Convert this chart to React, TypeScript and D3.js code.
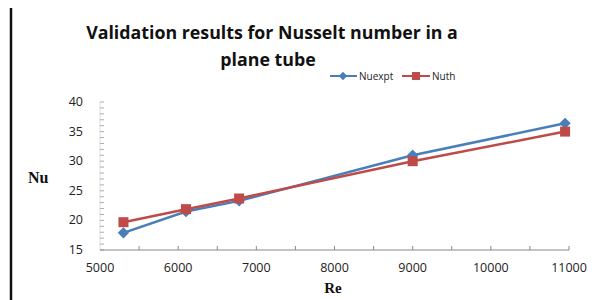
import React from "react";
import * as d3 from "d3";

const reValues = [5300, 6100, 6780, 9000, 10950];
const nuExpt = [17.9, 21.5, 23.3, 31.0, 36.4];
const nuTh = [19.7, 21.9, 23.7, 30.0, 35.0];
const xTicks = [5000, 6000, 7000, 8000, 9000, 10000, 11000];
const yTicks = [15, 20, 25, 30, 35, 40];

const BLUE = "#4a7ebb";
const RED = "#be4b48";

const App: React.FC = () => {
  const W = 612;
  const H = 300;

  const x = d3.scaleLinear().domain([5000, 11000]).range([100, 569]);
  const y = d3.scaleLinear().domain([15, 40]).range([250, 102]);

  const line = d3
    .line<number>()
    .x((_, i) => x(reValues[i]))
    .y((d) => y(d));

  const minorX = d3.range(5500, 11001, 500);
  const minorY = d3.range(15, 41, 1);

  return (
    <svg
      width={W}
      height={H}
      style={{ position: "absolute", left: 0, top: 0, background: "#fff" }}
    >
      {/* left border line from the scan */}
      <line x1={11} x2={11} y1={8} y2={300} stroke="#111" strokeWidth={2.5} />

      {/* title */}
      <g fontFamily="'Open Sans', sans-serif" fontWeight="bold" fill="#111" textAnchor="middle">
        <text x={272} y={39} fontSize={17.8}>
          Validation results for Nusselt number in a
        </text>
        <text x={268} y={66} fontSize={17.8}>
          plane tube
        </text>
      </g>

      {/* axes */}
      <line x1={100} x2={100} y1={y(40)} y2={y(15)} stroke="#ddd" strokeWidth={1} />
      {minorY.map((v) => (
        <line key={"my" + v} x1={100} x2={104} y1={y(v)} y2={y(v)} stroke="#999" strokeWidth={0.8} />
      ))}
      <line x1={x(5000)} x2={x(11000)} y1={y(15)} y2={y(15)} stroke="#888" strokeWidth={1} />
      {minorX.map((v) => (
        <line key={"mx" + v} x1={x(v)} x2={x(v)} y1={y(15)} y2={y(15) - 4} stroke="#888" strokeWidth={1} />
      ))}

      <g fontFamily="'Open Sans', sans-serif" fontSize={12.5} fill="#222">
        {yTicks.map((v) => (
          <text key={"yt" + v} x={83} y={y(v) + 4} textAnchor="end">
            {v}
          </text>
        ))}
        {xTicks.map((v) => (
          <text key={"xt" + v} x={x(v)} y={272} textAnchor="middle">
            {v}
          </text>
        ))}
      </g>

      {/* axis titles */}
      <g fontFamily="'Liberation Serif', serif" fontWeight="bold" fill="#111">
        <text x={28} y={183} fontSize={16}>Nu</text>
        <text x={333} y={293} fontSize={15} textAnchor="middle">Re</text>
      </g>

      {/* series */}
      <path d={line(nuExpt) ?? ""} fill="none" stroke={BLUE} strokeWidth={2.5} />
      <path d={line(nuTh) ?? ""} fill="none" stroke={RED} strokeWidth={2.5} />
      {nuExpt.map((v, i) => (
        <rect
          key={"b" + i}
          x={x(reValues[i]) - 4}
          y={y(v) - 4}
          width={8}
          height={8}
          fill={BLUE}
          transform={`rotate(45 ${x(reValues[i])} ${y(v)})`}
        />
      ))}
      {nuTh.map((v, i) => (
        <rect key={"r" + i} x={x(reValues[i]) - 5} y={y(v) - 5} width={10} height={10} fill={RED} />
      ))}

      {/* legend */}
      <g fontFamily="'Open Sans', sans-serif" fontSize={10} fill="#222">
        <line x1={330} x2={357} y1={76} y2={76} stroke={BLUE} strokeWidth={2} />
        <rect x={340} y={73} width={6} height={6} fill={BLUE} transform="rotate(45 343 76)" />
        <text x={359} y={79.5}>Nuexpt</text>
        <line x1={402} x2={430} y1={76} y2={76} stroke={RED} strokeWidth={2} />
        <rect x={412} y={72} width={8} height={8} fill={RED} />
        <text x={432} y={79.5}>Nuth</text>
      </g>
    </svg>
  );
};

export default App;
